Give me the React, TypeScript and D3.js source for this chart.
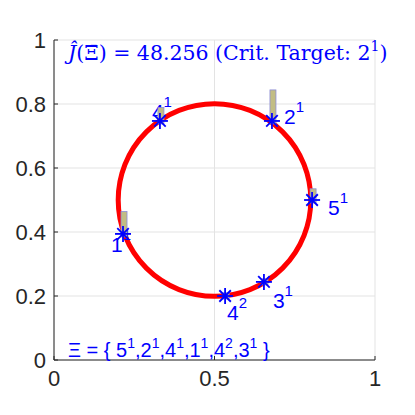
import React from "react";
import * as d3 from "d3";

// ---- data ----
const xTicks = [0, 0.5, 1];
const yTicks = [0, 0.2, 0.4, 0.6, 0.8, 1];
const xTickLabels = ["0", "0.5", "1"];
const yTickLabels = ["0", "0.2", "0.4", "0.6", "0.8", "1"];

const circleCenter = [0.5, 0.5];
const circleRadius = 0.3;

const pointNames = ["1", "2", "3", "4", "4", "5"];
const pointSups = ["1", "1", "1", "1", "2", "1"];
const pointX = [0.215, 0.679, 0.654, 0.33, 0.533, 0.804];
const pointY = [0.394, 0.747, 0.244, 0.747, 0.2, 0.5];
const barHeights = [0.07, 0.097, 0.01, 0.042, 0.01, 0.035];

const titleValue = "48.256";
const titleTarget = ["2", "1"];
const sequence = [
  ["5", "1"],
  ["2", "1"],
  ["4", "1"],
  ["1", "1"],
  ["4", "2"],
  ["3", "1"],
];

// ---- layout ----
const W = 415;
const H = 415;
const left = 54;
const right = 375;
const top = 40;
const bottom = 360;
const labelDx = [-12, 12, 9, -8, 2, 16];
const labelDy = [18, 3, 26, -2, 24, 15];
const blue = "#0000ff";

export default function App() {
  const x = d3.scaleLinear().domain([0, 1]).range([left, right]);
  const y = d3.scaleLinear().domain([0, 1]).range([bottom, top]);

  const circlePath = d3.path();
  circlePath.arc(
    x(circleCenter[0]),
    y(circleCenter[1]),
    x(circleRadius) - x(0),
    0,
    Math.PI * 2
  );

  const star = (cx: number, cy: number, k: number) => {
    const r = 8;
    const d = r * 0.72;
    return (
      <g key={"m" + k} stroke={blue} strokeWidth={1.8}>
        <line x1={cx - r} y1={cy} x2={cx + r} y2={cy} />
        <line x1={cx} y1={cy - r} x2={cx} y2={cy + r} />
        <line x1={cx - d} y1={cy - d} x2={cx + d} y2={cy + d} />
        <line x1={cx - d} y1={cy + d} x2={cx + d} y2={cy - d} />
      </g>
    );
  };

  const barW = 6;

  return (
    <svg
      width={W}
      height={H}
      style={{ position: "absolute", left: 0, top: 0, background: "#fff" }}
      fontFamily="'Liberation Sans', Arial, sans-serif"
    >
      <rect x={0} y={0} width={W} height={H} fill="#fff" />
      {/* grid */}
      {xTicks.map((t, i) => (
        <line key={"gx" + i} x1={x(t)} x2={x(t)} y1={top} y2={bottom} stroke="#e3e3e3" strokeWidth={1} />
      ))}
      {yTicks.map((t, i) => (
        <line key={"gy" + i} x1={left} x2={right} y1={y(t)} y2={y(t)} stroke="#e3e3e3" strokeWidth={1} />
      ))}
      {/* axes */}
      <line x1={left} x2={left} y1={top} y2={bottom} stroke="#262626" strokeWidth={1} />
      <line x1={left} x2={right} y1={bottom} y2={bottom} stroke="#262626" strokeWidth={1} />
      {xTicks.map((t, i) => (
        <g key={"xt" + i}>
          <line x1={x(t)} x2={x(t)} y1={bottom} y2={bottom - 4} stroke="#262626" />
          <text x={x(t)} y={bottom + 26} fontSize={22} textAnchor="middle" fill="#262626">
            {xTickLabels[i]}
          </text>
        </g>
      ))}
      {yTicks.map((t, i) => (
        <g key={"yt" + i}>
          <line x1={left} x2={left + 4} y1={y(t)} y2={y(t)} stroke="#262626" />
          <text x={left - 8} y={y(t) + 8} fontSize={22} textAnchor="end" fill="#262626">
            {yTickLabels[i]}
          </text>
        </g>
      ))}

      {/* circle */}
      <path d={circlePath.toString()} fill="none" stroke="#ff0000" strokeWidth={5} />

      {/* labels */}
      {pointNames.map((n, i) => (
        <text
          key={"l" + i}
          x={x(pointX[i]) + labelDx[i]}
          y={y(pointY[i]) + labelDy[i]}
          fontSize={21}
          fill={blue}
        >
          {n}
          <tspan fontSize={15} dy={-12}>
            {pointSups[i]}
          </tspan>
        </text>
      ))}

      {/* bars */}
      {pointX.map((px, i) => {
        const y0 = y(pointY[i]) + 3;
        const y1 = y(pointY[i] + barHeights[i]);
        return (
          <rect
            key={"b" + i}
            x={x(px) - barW / 2 + 1}
            y={y1}
            width={barW}
            height={y0 - y1}
            fill="#c2bd84"
            stroke="#8c8cd9"
            strokeWidth={0.8}
          />
        );
      })}

      {/* markers */}
      {pointX.map((px, i) => star(x(px), y(pointY[i]), i))}

      {/* title */}
      <text x={68} y={60} fontSize={20.5} fill={blue} fontFamily="'DejaVu Serif', 'Liberation Serif', serif">
        <tspan fontStyle="italic">{"J\u0302"}</tspan>
        <tspan>{"(\u039E\u0304) = " + titleValue + " (Crit.  Target: " + titleTarget[0]}</tspan>
        <tspan fontSize={14} dy={-9}>
          {titleTarget[1]}
        </tspan>
        <tspan dy={9}>)</tspan>
      </text>

      {/* sequence */}
      <text x={68} y={357} fontSize={20} fill={blue}>
        {"\u039E = { "}
        {sequence.map((s, i) => (
          <React.Fragment key={"s" + i}>
            <tspan>{s[0]}</tspan>
            <tspan fontSize={14} dy={-9}>
              {s[1]}
            </tspan>
            <tspan dy={9}>{i < sequence.length - 1 ? "," : " }"}</tspan>
          </React.Fragment>
        ))}
      </text>
    </svg>
  );
}
